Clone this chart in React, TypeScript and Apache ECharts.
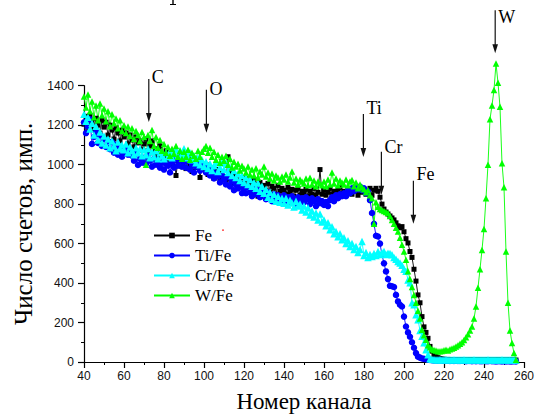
import React, { useEffect, useRef } from 'react';
import * as echarts from 'echarts';

const firstChannel = 40;

const seriesNames = ['Fe', 'Ti/Fe', 'Cr/Fe', 'W/Fe'];

const feCounts = [
  1205, 1245, 1190, 1250, 1215, 1180, 1235, 1200, 1160, 1225,
  1190, 1215, 1150, 1200, 1175, 1130, 1185, 1160, 1120, 1175,
  1140, 1160, 1105, 1150, 1125, 1090, 1140, 1110, 1120, 1075,
  1105, 1130, 1070, 1095, 1120, 1060, 1080, 1045, 1095, 1050,
  1035, 1070, 1025, 1050, 1005, 1040, 945, 1020, 1045, 990,
  1015, 980, 1030, 1000, 965, 1010, 985, 1020, 935, 990,
  975, 1000, 950, 985, 960, 930, 975, 950, 920, 965,
  940, 915, 1040, 930, 955, 905, 940, 920, 895, 935,
  905, 930, 890, 915, 880, 925, 900, 840, 910, 875,
  895, 870, 905, 860, 890, 880, 850, 895, 865, 880,
  870, 850, 885, 860, 875, 840, 870, 880, 845, 865,
  855, 875, 840, 865, 850, 880, 845, 860, 975, 850,
  870, 845, 860, 880, 850, 865, 840, 870, 885, 855,
  865, 845, 875, 860, 850, 880, 865, 845, 870, 860,
  875, 850, 865, 880, 845, 870, 880, 865, 835, 800,
  775, 760, 750, 740, 730, 720, 705, 690, 680, 686,
  660, 625, 603, 560, 530, 470, 410, 340, 300, 230,
  178, 150, 120, 79, 55, 37, 28, 22, 18, 15,
  14, 12, 13, 11, 12, 10, 12, 11, 10, 12,
  11, 10, 11, 12, 10, 11, 10, 12, 11, 10,
  11, 10, 12, 10, 11, 10, 11, 12, 10, 11,
  10, 11, 10, 12, 10, 11, 10,
];

const tiFeCounts = [
  1215, 1160, 1195, 1230, 1105, 1140, 1165, 1110, 1150, 1095,
  1130, 1090, 1120, 1078, 1115, 1060, 1100, 1050, 1090, 1040,
  1060, 1075, 1050, 1065, 1045, 1020, 1055, 998, 1030, 1010,
  1035, 1005, 1045, 1020, 990, 1030, 1000, 1015, 985, 1010,
  975, 1005, 995, 960, 1010, 985, 1025, 995, 1020, 990,
  1015, 985, 1020, 975, 1000, 960, 990, 1005, 970, 990,
  995, 960, 980, 945, 970, 930, 955, 940, 910, 945,
  925, 900, 935, 890, 915, 870, 900, 880, 905, 856,
  880, 855, 885, 860, 840, 875, 850, 870, 835, 865,
  850, 825, 860, 835, 815, 850, 830, 845, 810, 826,
  845, 815, 835, 810, 840, 820, 800, 835, 815, 830,
  810, 835, 825, 800, 830, 815, 790, 825, 805, 815,
  796, 810, 790, 820, 835, 815, 845, 830, 850, 840,
  855, 840, 870, 855, 880, 865, 890, 875, 889, 870,
  880, 855, 863, 820, 755, 700, 640, 636, 600, 543,
  500, 459, 420, 386, 384, 380, 340, 307, 290, 281,
  230, 180, 150, 128, 100, 72, 45, 27, 22, 18,
  16, 14, 12, 10, 9, 8, 8, 7, 8, 7,
  6, 7, 6, 5, 6, 5, 6, 5, 5, 6,
  5, 4, 5, 5, 4, 5, 4, 5, 4, 4,
  5, 4, 4, 5, 4, 4, 3, 4, 4, 3,
  4, 3, 4, 3, 3, 4, 3,
];

const crFeCounts = [
  1255, 1220, 1240, 1180, 1210, 1150, 1195, 1125, 1165, 1110,
  1145, 1100, 1130, 1085, 1120, 1095, 1070, 1115, 1080, 1100,
  1075, 1105, 1060, 1090, 1070, 1050, 1085, 1060, 1080, 1045,
  1075, 1050, 1080, 1035, 1065, 1040, 1070, 1030, 1060, 1045,
  1030, 1060, 1040, 1065, 1035, 1055, 1075, 1045, 1070, 1050,
  1080, 1055, 1035, 1060, 1025, 1045, 1010, 1035, 1000, 1025,
  990, 1015, 980, 1005, 970, 995, 1010, 965, 985, 1010,
  975, 1008, 960, 985, 945, 970, 935, 955, 920, 945,
  910, 935, 900, 925, 890, 910, 880, 907, 865, 890,
  855, 875, 835, 860, 825, 850, 815, 840, 810, 830,
  805, 830, 795, 820, 806, 785, 815, 790, 800, 770,
  790, 760, 781, 745, 765, 735, 755, 720, 750, 710,
  720, 690, 705, 670, 685, 650, 661, 635, 650, 620,
  630, 600, 615, 585, 600, 570, 585, 555, 570, 610,
  540, 555, 530, 545, 535, 550, 540, 560, 545, 553,
  560, 545, 551, 550, 543, 530, 520, 509, 501, 490,
  470, 460, 416, 401, 300, 290, 240, 214, 160, 130,
  97, 62, 37, 17, 14, 13, 12, 12, 13, 12,
  12, 13, 12, 11, 12, 13, 12, 11, 12, 12,
  13, 12, 11, 12, 12, 13, 12, 11, 12, 12,
  11, 12, 13, 12, 11, 12, 12, 11, 12, 13,
  12, 11, 12, 12, 11, 12, 10,
];

const wFeCounts = [
  1345, 1290, 1355, 1270, 1320, 1240, 1300, 1225, 1310, 1250,
  1285, 1220, 1270, 1195, 1255, 1210, 1234, 1185, 1225, 1170,
  1200, 1160, 1193, 1145, 1185, 1130, 1170, 1150, 1120, 1165,
  1140, 1000, 1150, 1120, 1175, 1095, 1140, 1085, 1125, 1070,
  1105, 1060, 1090, 1045, 1080, 1055, 1095, 1040, 1070, 1030,
  1065, 1040, 1075, 1025, 1060, 1045, 1030, 1070, 1040, 1065,
  1080, 1095, 1060, 1085, 1040, 1065, 1025, 1050, 1010, 1040,
  1020, 1045, 1000, 1030, 985, 1015, 990, 1005, 970, 995,
  980, 960, 990, 950, 975, 945, 982, 935, 965, 950,
  990, 940, 960, 930, 955, 920, 945, 935, 915, 940,
  925, 950, 915, 935, 965, 910, 930, 900, 925, 915,
  905, 930, 895, 933, 900, 920, 890, 915, 905, 895,
  914, 890, 925, 900, 960, 905, 930, 895, 920, 910,
  900, 925, 895, 915, 922, 890, 910, 880, 900, 885,
  875, 860, 870, 845, 830, 700, 810, 787, 775, 770,
  765, 760, 755, 740, 720, 700, 680, 661, 630, 594,
  560, 518, 460, 420, 380, 340, 300, 260, 220, 163,
  135, 113, 85, 75, 65, 61, 58, 55, 54, 56,
  60, 62, 58, 65, 68, 72, 78, 85, 92, 100,
  112, 125, 140, 160, 180, 220, 281, 376, 470, 568,
  674, 830, 1000, 1230, 1300, 1378, 1513, 1415, 1293, 1007,
  886, 560, 300, 160, 96, 45, 12,
];

const peakLabels = ['C', 'O', 'Ti', 'Cr', 'Fe', 'W'];
const peakChannels = [72.4, 101.2, 179.7, 188.7, 204.7, 245.6];
const peakArrowTips = [1216, 1162, 1039, 847, 700, 1565];
const peakLabelDy = [-11, -10, -15, -14, -16, -2];

const seriesStyles = [
  { color: '#000000', symbol: 'rect', size: 5 },
  { color: '#0000ff', symbol: 'circle', size: 6.5 },
  { color: '#00ffff', symbol: 'triangle', size: 7.5 },
  { color: '#00ff00', symbol: 'triangle', size: 6.5 },
];

function toPairs(values: number[]) {
  return values.map((v, i) => [firstChannel + i, v]);
}

export default function App() {
  const ref = useRef<HTMLDivElement>(null);
  useEffect(() => {
    document.body.style.margin = '0';
    const chart = echarts.init(ref.current as HTMLDivElement, null, { renderer: 'svg' });
    const allData = [feCounts, tiFeCounts, crFeCounts, wFeCounts];
    const axisColor = '#000';
    const plainNumber = (v: number) => String(v);
    chart.setOption({
      animation: false,
      grid: { left: 84, right: 12, top: 85.7, bottom: 55.7 },
      xAxis: {
        type: 'value',
        min: 40,
        max: 260,
        interval: 20,
        axisLine: { show: true, onZero: false, lineStyle: { color: axisColor, width: 1.2 } },
        axisTick: { show: true, length: 6, lineStyle: { color: axisColor, width: 1.2 } },
        minorTick: { show: true, splitNumber: 2, length: 3, lineStyle: { color: axisColor, width: 1 } },
        splitLine: { show: false },
        axisLabel: { fontFamily: 'Liberation Sans', fontSize: 12, color: '#111', margin: 8, formatter: plainNumber },
        name: 'Номер канала',
        nameLocation: 'middle',
        nameGap: 28,
        nameTextStyle: { fontFamily: 'Liberation Serif', fontSize: 23, color: '#000' },
      },
      yAxis: {
        type: 'value',
        min: 0,
        max: 1400,
        interval: 200,
        axisLine: { show: true, onZero: false, lineStyle: { color: axisColor, width: 1.2 } },
        axisTick: { show: true, length: 6, lineStyle: { color: axisColor, width: 1.2 } },
        minorTick: { show: true, splitNumber: 2, length: 3, lineStyle: { color: axisColor, width: 1 } },
        splitLine: { show: false },
        axisLabel: { fontFamily: 'Liberation Sans', fontSize: 12, color: '#111', margin: 10, formatter: plainNumber },
        name: 'Число счетов, имп.',
        nameLocation: 'middle',
        nameGap: 47,
        nameRotate: 90,
        nameTextStyle: { fontFamily: 'Liberation Serif', fontSize: 25, color: '#000' },
      },
      legend: {
        orient: 'vertical',
        left: 148,
        top: 222,
        itemWidth: 36,
        itemHeight: 7,
        itemGap: 3,
        data: seriesNames,
        textStyle: { fontFamily: 'Liberation Serif', fontSize: 17, color: '#000', lineHeight: 17 },
      },
      series: allData.map((vals, i) => ({
        type: 'line',
        name: seriesNames[i],
        data: toPairs(vals),
        symbol: seriesStyles[i].symbol,
        symbolSize: seriesStyles[i].size,
        showAllSymbol: true,
        clip: false,
        lineStyle: { color: seriesStyles[i].color, width: 0.9 },
        itemStyle: { color: seriesStyles[i].color },
        emphasis: { disabled: true },
      })),
    });

    const graphics: any[] = [];
    peakLabels.forEach((label, i) => {
      const p = chart.convertToPixel({ gridIndex: 0 }, [peakChannels[i], peakArrowTips[i]]) as number[];
      const px = p[0];
      const py = p[1];
      const top = py - 43;
      graphics.push({
        type: 'line',
        shape: { x1: px, y1: top, x2: px, y2: py - 6 },
        style: { stroke: '#111', lineWidth: 1.2 },
      });
      graphics.push({
        type: 'polygon',
        shape: { points: [[px - 2.8, py - 9], [px + 2.8, py - 9], [px, py]] },
        style: { fill: '#111' },
      });
      graphics.push({
        type: 'text',
        x: px + 3,
        y: top + peakLabelDy[i],
        style: {
          text: label,
          fontFamily: 'Liberation Serif',
          fontSize: 18,
          fill: '#000',
          align: 'left',
          verticalAlign: 'top',
          textAlign: 'left',
          textVerticalAlign: 'top',
        },
      });
    });
    graphics.push({ type: 'line', shape: { x1: 173, y1: 0, x2: 173, y2: 4 }, style: { stroke: '#000', lineWidth: 1.4 } });
    graphics.push({ type: 'line', shape: { x1: 170, y1: 4.5, x2: 176, y2: 4.5 }, style: { stroke: '#000', lineWidth: 1 } });
    graphics.push({ type: 'rect', shape: { x: 222, y: 229.5, width: 2, height: 1.2 }, style: { fill: '#ff3030' } });
    chart.setOption({ graphic: graphics });

    return () => chart.dispose();
  }, []);
  return <div ref={ref} style={{ width: 537, height: 418 }} />;
}
